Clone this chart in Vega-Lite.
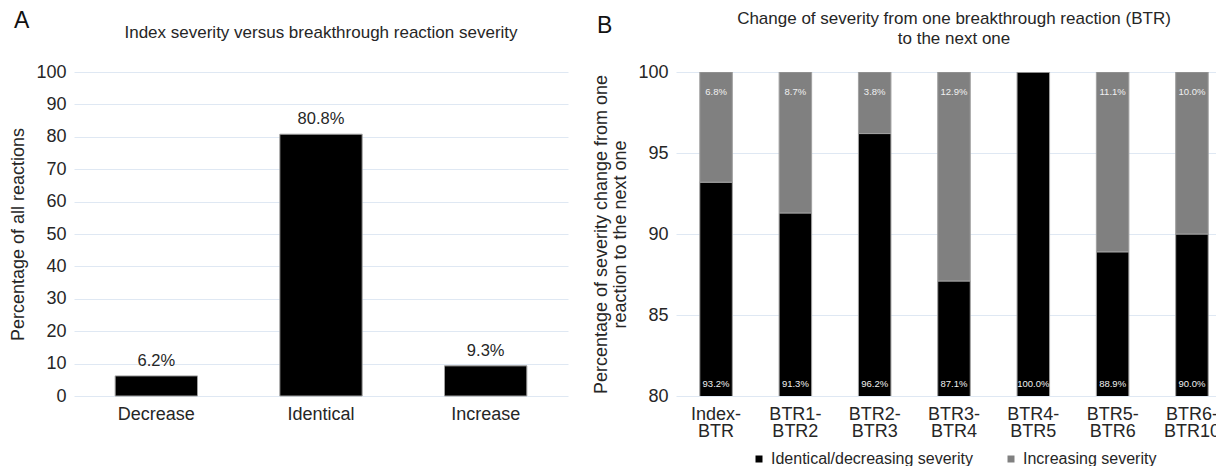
{
  "$schema": "https://vega.github.io/schema/vega-lite/v6.json",
  "padding": {"left": 9, "top": 10, "right": 0, "bottom": 0},
  "autosize": {"type": "pad"},
  "config": {
    "font": "Liberation Sans",
    "view": {"stroke": null},
    "axis": {"labelFont": "Liberation Sans", "titleFont": "Liberation Sans", "labelColor": "#262626", "titleColor": "#262626", "titleFontWeight": "normal", "gridColor": "#dfe8f3", "domain": false, "ticks": false},
    "title": {"font": "Liberation Sans", "fontWeight": "normal", "color": "#262626"},
    "legend": {"labelFont": "Liberation Sans", "layout": {"bottom": {"anchor": "middle"}}},
    "concat": {"spacing": 24}
  },
  "resolve": {"scale": {"color": "independent"}, "legend": {"color": "independent"}},
  "hconcat": [
    {
      "title": {"text": "A", "anchor": "start", "frame": "bounds", "fontSize": 23, "color": "#111111", "offset": -9, "dx": 4},
      "vconcat": [
        {
          "width": 494,
          "height": 324,
          "title": {"text": "Index severity versus breakthrough reaction severity", "fontSize": 17, "anchor": "middle", "offset": 21},
          "data": {"values": [
            {"category": "Decrease", "pct": 6.2},
            {"category": "Identical", "pct": 80.8},
            {"category": "Increase", "pct": 9.3}
          ]},
          "transform": [{"calculate": "format(datum.pct, '.1f') + '%'", "as": "label"}],
          "encoding": {
            "x": {"field": "category", "type": "nominal", "sort": null, "scale": {"paddingInner": 0.5, "paddingOuter": 0.25}, "axis": {"title": null, "labelAngle": 0, "labelFontSize": 18, "labelPadding": 9, "grid": false}},
            "y": {"field": "pct", "type": "quantitative", "scale": {"domain": [0, 100]}, "axis": {"title": "Percentage of all reactions", "titleFontSize": 18, "labelFontSize": 18, "values": [0, 10, 20, 30, 40, 50, 60, 70, 80, 90, 100], "labelPadding": 8, "titlePadding": 8}}
          },
          "layer": [
            {"mark": {"type": "bar", "color": "black", "stroke": "#a0a0a0", "strokeWidth": 1}},
            {"mark": {"type": "text", "baseline": "alphabetic", "dy": -10, "fontSize": 16.5, "color": "#262626"}, "encoding": {"text": {"field": "label", "type": "nominal"}}}
          ]
        }
      ]
    },
    {
      "title": {"text": "B", "anchor": "start", "frame": "bounds", "fontSize": 23, "color": "#111111", "offset": -28, "dx": 4},
      "resolve": {"scale": {"color": "independent"}, "legend": {"color": "independent"}},
      "vconcat": [
        {
          "width": 556,
          "height": 324,
          "title": {"text": ["Change of severity from one breakthrough reaction (BTR)", "to the next one"], "fontSize": 17, "lineHeight": 20, "anchor": "middle", "offset": 15},
          "data": {"values": [
            {"pair": "Index-BTR", "series": "Identical/decreasing severity", "pct": 93.2},
            {"pair": "Index-BTR", "series": "Increasing severity", "pct": 6.8},
            {"pair": "BTR1-BTR2", "series": "Identical/decreasing severity", "pct": 91.3},
            {"pair": "BTR1-BTR2", "series": "Increasing severity", "pct": 8.7},
            {"pair": "BTR2-BTR3", "series": "Identical/decreasing severity", "pct": 96.2},
            {"pair": "BTR2-BTR3", "series": "Increasing severity", "pct": 3.8},
            {"pair": "BTR3-BTR4", "series": "Identical/decreasing severity", "pct": 87.1},
            {"pair": "BTR3-BTR4", "series": "Increasing severity", "pct": 12.9},
            {"pair": "BTR4-BTR5", "series": "Identical/decreasing severity", "pct": 100.0},
            {"pair": "BTR4-BTR5", "series": "Increasing severity", "pct": 0.0},
            {"pair": "BTR5-BTR6", "series": "Identical/decreasing severity", "pct": 88.9},
            {"pair": "BTR5-BTR6", "series": "Increasing severity", "pct": 11.1},
            {"pair": "BTR6-BTR10", "series": "Identical/decreasing severity", "pct": 90.0},
            {"pair": "BTR6-BTR10", "series": "Increasing severity", "pct": 10.0}
          ]},
          "transform": [{"calculate": "format(datum.pct, '.1f') + '%'", "as": "label"}],
          "encoding": {
            "x": {"field": "pair", "type": "nominal", "sort": null, "scale": {"paddingInner": 0.59, "paddingOuter": 0.3}, "axis": {"title": null, "labelAngle": 0, "labelFontSize": 18, "labelPadding": 9, "labelLineHeight": 17, "grid": false, "labelExpr": "[split(datum.label, '-')[0] + '-', split(datum.label, '-')[1]]"}}
          },
          "layer": [
            {
              "mark": {"type": "bar", "clip": true, "stroke": "#a0a0a0", "strokeWidth": 1},
              "encoding": {
                "y": {"field": "pct", "type": "quantitative", "stack": "zero", "scale": {"domain": [80, 100]}, "axis": {"title": ["Percentage of severity change from one", "reaction to the next one"], "titleFontSize": 18, "titleLineHeight": 19, "labelFontSize": 18, "values": [80, 85, 90, 95, 100], "labelPadding": 8, "titlePadding": 8}},
                "color": {"field": "series", "type": "nominal", "scale": {"domain": ["Identical/decreasing severity", "Increasing severity"], "range": ["#000000", "#808080"]}, "legend": {"title": null, "orient": "bottom", "direction": "horizontal", "symbolType": "square", "symbolSize": 49, "symbolStrokeWidth": 0, "labelFontSize": 16, "labelLimit": 400, "labelColor": "#262626", "labelOffset": 4, "offset": 11, "columnPadding": 30}},
                "order": {"field": "series", "sort": "ascending"}
              }
            },
            {
              "transform": [{"filter": "datum.series == 'Identical/decreasing severity'"}],
              "mark": {"type": "text", "baseline": "alphabetic", "dy": -9, "fontSize": 9.5, "color": "#f0f0f0"},
              "encoding": {"y": {"datum": 80, "type": "quantitative"}, "text": {"field": "label", "type": "nominal"}}
            },
            {
              "transform": [{"filter": "datum.series == 'Increasing severity' && datum.pct > 0"}],
              "mark": {"type": "text", "baseline": "alphabetic", "dy": 23, "fontSize": 9.5, "color": "#f0f0f0"},
              "encoding": {"y": {"datum": 100, "type": "quantitative"}, "text": {"field": "label", "type": "nominal"}}
            }
          ]
        }
      ]
    }
  ]
}
